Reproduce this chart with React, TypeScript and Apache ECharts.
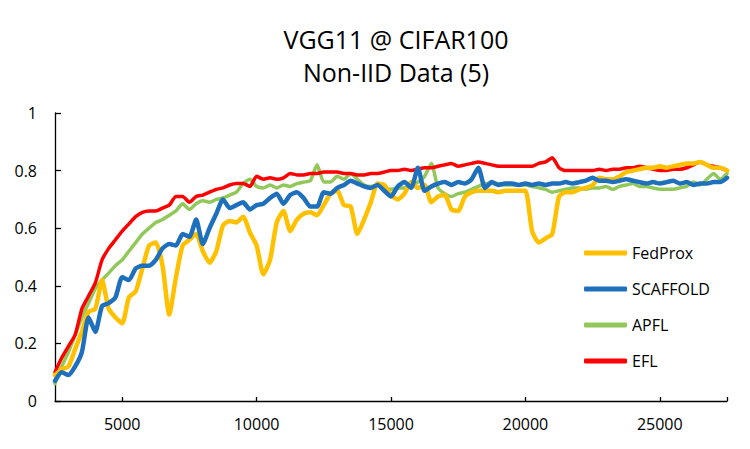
import React, { useEffect, useRef } from "react";
import * as echarts from "echarts";

const steps = [
  2500, 2750, 3000, 3250, 3500, 3750, 4000, 4250, 4500, 4750,
  5000, 5250, 5500, 5750, 6000, 6250, 6500, 6750, 7000, 7250,
  7500, 7750, 8000, 8250, 8500, 8750, 9000, 9250, 9500, 9750,
  10000, 10250, 10500, 10750, 11000, 11250, 11500, 11750, 12000, 12250,
  12500, 12750, 13000, 13250, 13500, 13750, 14000, 14250, 14500, 14750,
  15000, 15250, 15500, 15750, 16000, 16250, 16500, 16750, 17000, 17250,
  17500, 17750, 18000, 18250, 18500, 18750, 19000, 19250, 19500, 19750,
  20000, 20250, 20500, 20750, 21000, 21250, 21500, 21750, 22000, 22250,
  22500, 22750, 23000, 23250, 23500, 23750, 24000, 24250, 24500, 24750,
  25000, 25250, 25500, 25750, 26000, 26250, 26500, 26750, 27000, 27250,
  27500,
];

const fedProx = [
  0.09, 0.11, 0.12, 0.18, 0.24, 0.31, 0.32, 0.42, 0.32, 0.29,
  0.27, 0.36, 0.38, 0.46, 0.54, 0.55, 0.47, 0.3, 0.43, 0.54,
  0.56, 0.58, 0.52, 0.48, 0.52, 0.61, 0.625, 0.62, 0.64, 0.585,
  0.54, 0.44, 0.49, 0.62, 0.66, 0.59, 0.63, 0.65, 0.655, 0.645,
  0.68, 0.72, 0.73, 0.68, 0.675, 0.58, 0.63, 0.69, 0.755, 0.75,
  0.715, 0.7, 0.72, 0.76, 0.74, 0.75, 0.69, 0.71, 0.715, 0.665,
  0.66, 0.71, 0.725, 0.73, 0.73, 0.73, 0.725, 0.73, 0.73, 0.73,
  0.73, 0.59, 0.55, 0.565, 0.58, 0.71, 0.725, 0.725, 0.735, 0.74,
  0.75, 0.775, 0.77, 0.77, 0.78, 0.795, 0.8, 0.805, 0.81, 0.81,
  0.815, 0.81, 0.815, 0.82, 0.825, 0.825, 0.83, 0.82, 0.81, 0.81,
  0.8,
];

const scaffold = [
  0.07, 0.1, 0.09, 0.12, 0.17, 0.29, 0.24, 0.33, 0.34, 0.36,
  0.43, 0.42, 0.46, 0.47, 0.47, 0.49, 0.53, 0.545, 0.54, 0.58,
  0.57, 0.63, 0.545, 0.6, 0.65, 0.7, 0.67, 0.68, 0.69, 0.665,
  0.68, 0.685, 0.705, 0.72, 0.685, 0.715, 0.725, 0.705, 0.675, 0.675,
  0.725, 0.72, 0.74, 0.75, 0.765, 0.755, 0.745, 0.74, 0.75, 0.73,
  0.71, 0.745, 0.76, 0.74, 0.81, 0.73, 0.745, 0.755, 0.76, 0.75,
  0.76, 0.755, 0.77, 0.81, 0.74, 0.76, 0.75, 0.755, 0.755, 0.75,
  0.755, 0.75, 0.755, 0.75, 0.755, 0.755, 0.76, 0.755, 0.76, 0.765,
  0.775, 0.765, 0.765, 0.76, 0.765, 0.77, 0.765, 0.76, 0.755, 0.76,
  0.755, 0.76, 0.765, 0.755, 0.76, 0.75, 0.755, 0.755, 0.76, 0.76,
  0.775,
];

const apfl = [
  0.06, 0.12, 0.17, 0.23, 0.29, 0.34, 0.39, 0.42, 0.445, 0.47,
  0.49, 0.52, 0.55, 0.58, 0.6, 0.62, 0.63, 0.645, 0.66, 0.685,
  0.665, 0.685, 0.695, 0.69, 0.7, 0.705, 0.715, 0.725, 0.755, 0.77,
  0.745, 0.74, 0.75, 0.74, 0.75, 0.745, 0.755, 0.76, 0.765, 0.82,
  0.76, 0.76, 0.78, 0.77, 0.79, 0.77, 0.75, 0.745, 0.75, 0.74,
  0.735, 0.74, 0.74, 0.75, 0.76, 0.78, 0.825, 0.74, 0.72, 0.71,
  0.72, 0.725, 0.735, 0.745, 0.755, 0.755, 0.755, 0.75, 0.75, 0.75,
  0.75, 0.745, 0.74, 0.735, 0.725, 0.73, 0.735, 0.74, 0.74, 0.735,
  0.74, 0.74, 0.745, 0.735, 0.745, 0.75, 0.755, 0.745, 0.745, 0.74,
  0.735, 0.735, 0.735, 0.74, 0.745, 0.76, 0.75, 0.77, 0.79, 0.77,
  0.79,
];

const efl = [
  0.1, 0.15, 0.19, 0.23, 0.32, 0.365, 0.41, 0.49, 0.53, 0.56,
  0.59, 0.615, 0.64, 0.655, 0.66, 0.66, 0.67, 0.68, 0.71, 0.71,
  0.69, 0.71, 0.715, 0.725, 0.735, 0.74, 0.75, 0.755, 0.755, 0.745,
  0.78, 0.77, 0.775, 0.77, 0.775, 0.79, 0.785, 0.785, 0.79, 0.79,
  0.795, 0.795, 0.795, 0.79, 0.79, 0.785, 0.785, 0.79, 0.79, 0.795,
  0.8, 0.8, 0.805, 0.8, 0.805, 0.81, 0.81, 0.815, 0.82, 0.825,
  0.815, 0.82, 0.825, 0.83, 0.825, 0.82, 0.815, 0.815, 0.815, 0.815,
  0.815, 0.815, 0.825, 0.83, 0.845, 0.81, 0.8, 0.8, 0.8, 0.8,
  0.8, 0.805, 0.8, 0.805, 0.805, 0.81, 0.81, 0.815, 0.81, 0.805,
  0.8, 0.8, 0.805, 0.805, 0.81, 0.82, 0.83, 0.82, 0.815, 0.81,
  0.8,
];

const xLabelValues = [5000, 10000, 15000, 20000, 25000];
const xTickValues = [5000, 10000, 15000, 20000, 25000, 27500];
const legendOrder = ["FedProx", "SCAFFOLD", "APFL", "EFL"];

const FONT = "'Open Sans', 'Noto Sans', sans-serif";

const pair = (vals: number[]) => steps.map((x, i) => [x, vals[i]]);

export default function App() {
  const ref = useRef<HTMLDivElement>(null);
  useEffect(() => {
    const chart = echarts.init(ref.current!, null, { renderer: "svg" });
    const mk = (name: string, vals: number[], color: string, width: number, z: number) => ({
      name,
      type: "line",
      data: pair(vals),
      showSymbol: false,
      symbol: "none",
      smooth: 0.2,
      z,
      color,
      lineStyle: { color, width, cap: "round", join: "round" },
    });
    chart.setOption({
      animation: false,
      backgroundColor: "#fff",
      title: {
        text: "VGG11 @ CIFAR100\nNon-IID Data (5)",
        left: 391,
        textAlign: "center",
        top: 17,
        textStyle: {
          fontFamily: FONT,
          fontSize: 25,
          fontWeight: "normal",
          color: "#000",
          lineHeight: 33,
        },
      },
      legend: {
        data: legendOrder,
        orient: "vertical",
        left: 579,
        top: 238,
        itemWidth: 43,
        itemHeight: 5,
        itemGap: 16,
        icon: "roundRect",
        backgroundColor: "#fff",
        textStyle: { fontFamily: FONT, fontSize: 16, color: "#000", lineHeight: 20 },
      },
      grid: { left: 55, right: 23, top: 113, bottom: 48, containLabel: false },
      xAxis: {
        type: "value",
        min: 2500,
        max: 27500,
        splitLine: { show: false },
        axisLine: { lineStyle: { color: "#000", width: 1.3 } },
        axisTick: {
          show: true,
          inside: true,
          length: 4,
          customValues: xTickValues,
          lineStyle: { color: "#000", width: 1.3 },
        },
        axisLabel: {
          customValues: xLabelValues,
          formatter: (v: number) => String(v),
          fontFamily: FONT,
          fontSize: 16,
          color: "#000",
          margin: 15,
        },
      },
      yAxis: {
        type: "value",
        min: 0,
        max: 1,
        interval: 0.2,
        splitLine: { show: false },
        axisLine: { show: true, lineStyle: { color: "#000", width: 1.3 } },
        axisTick: { show: true, inside: true, length: 6, lineStyle: { color: "#000", width: 1.3 } },
        axisLabel: { fontFamily: FONT, fontSize: 16, color: "#000", margin: 18 },
      },
      series: [
        mk("APFL", apfl, "#92C85A", 3.5, 2),
        mk("EFL", efl, "#FF0000", 3.5, 3),
        mk("FedProx", fedProx, "#FFC000", 4.5, 4),
        mk("SCAFFOLD", scaffold, "#1F70BC", 4.5, 5),
      ],
    });
    return () => chart.dispose();
  }, []);
  return (
    <div
      ref={ref}
      style={{ position: "absolute", left: 0, top: 0, width: 750, height: 449 }}
    />
  );
}
